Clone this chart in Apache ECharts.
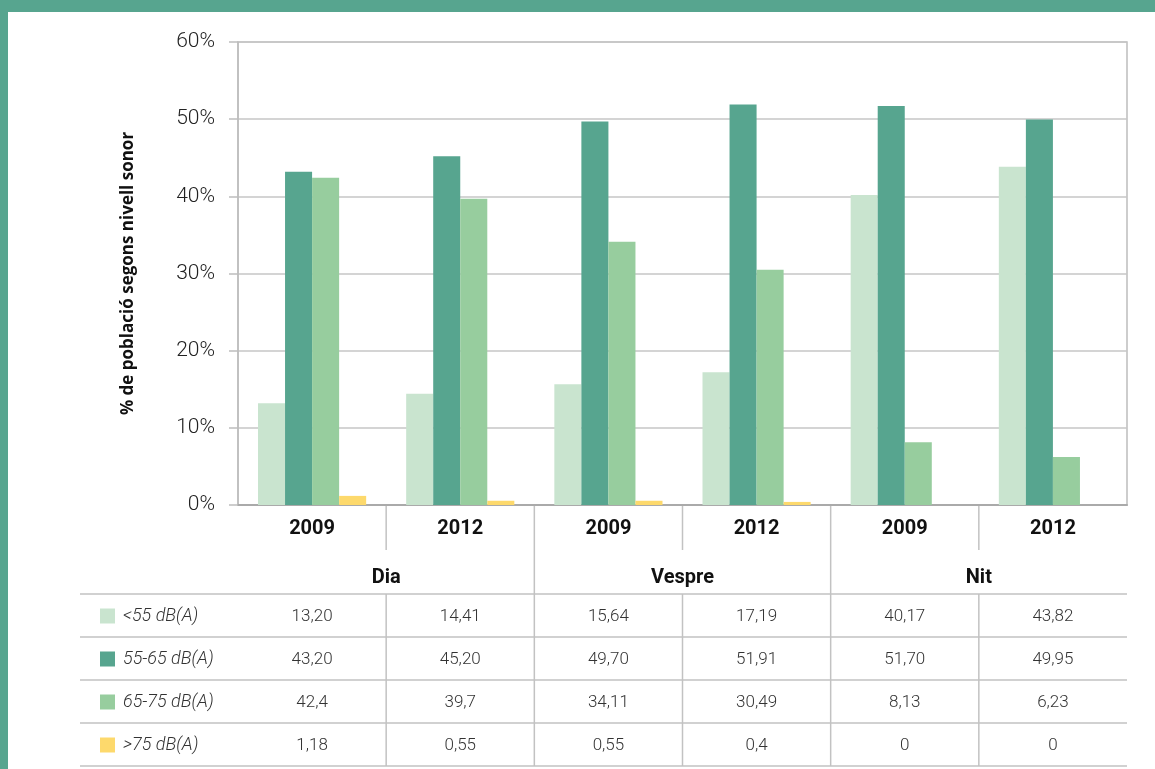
<!DOCTYPE html>
<html>
<head>
<meta charset="utf-8">
<script src="https://cdn.jsdelivr.net/npm/echarts@6/dist/echarts.min.js"></script>
<style>
html, body { margin: 0; padding: 0; background: #fff; }
#main { width: 1155px; height: 769px; }
</style>
</head>
<body>
<div id="main"></div>
<script>
// dades del gràfic
var years = ['2009', '2012', '2009', '2012', '2009', '2012'];
var periods = ['Dia', 'Vespre', 'Nit'];
var levels = ['<55 dB(A)', '55-65 dB(A)', '65-75 dB(A)', '>75 dB(A)'];
var below55 = ['13.20', '14.41', '15.64', '17.19', '40.17', '43.82'];
var from55to65 = ['43.20', '45.20', '49.70', '51.91', '51.70', '49.95'];
var from65to75 = ['42.4', '39.7', '34.11', '30.49', '8.13', '6.23'];
var above75 = ['1.18', '0.55', '0.55', '0.4', '0', '0'];
var yMin = 0, yMax = 60, yStep = 10;

var colors = ['#c9e4cf', '#57a58f', '#97cd9e', '#fdd96c'];
var rows = [below55, from55to65, from65to75, above75];
var font = 'Roboto, "Noto Sans", sans-serif';

var chart = echarts.init(document.getElementById('main'));

var series = [];
for (var i = 0; i < rows.length; i++) {
    series.push({
        name: levels[i],
        type: 'bar',
        silent: true,
        barGap: 0,
        barCategoryGap: '27%',
        itemStyle: { color: colors[i] },
        data: rows[i].map(function (v) { return parseFloat(v); })
    });
}

var option = {
    backgroundColor: '#fff',
    animation: false,
    textStyle: { fontFamily: font },
    grid: {
        left: 238, right: 28, top: 42, bottom: 264,
        show: true, borderColor: '#bdbdbd', borderWidth: 1.5
    },
    xAxis: [{
        type: 'category',
        data: years,
        axisLine: { lineStyle: { color: '#aaa', width: 2 } },
        axisTick: { show: false },
        axisLabel: { fontSize: 20, fontWeight: 'bold', color: '#111', margin: 14 }
    }, {
        type: 'category',
        data: periods,
        position: 'bottom',
        offset: 50,
        axisLine: { show: false },
        axisTick: { show: false },
        axisLabel: { fontSize: 20, fontWeight: 'bold', color: '#111', margin: 13 }
    }],
    yAxis: {
        type: 'value',
        min: yMin, max: yMax, interval: yStep,
        name: '% de població segons nivell sonor',
        nameLocation: 'middle',
        nameGap: 101,
        nameTextStyle: { fontFamily: '"Open Sans", sans-serif', fontSize: 17, fontWeight: 'bold', color: '#111' },
        axisLine: { show: true, lineStyle: { color: '#bdbdbd', width: 1.5 } },
        axisTick: { show: true, length: 9, lineStyle: { color: '#bdbdbd', width: 1.5 } },
        axisLabel: { formatter: '{value}%', fontSize: 21, fontWeight: 300, color: '#222', margin: 23 },
        splitLine: { lineStyle: { color: '#c6c6c6', width: 1.5 } }
    },
    series: series
};
chart.setOption(option);

// taula de dades sota l'eix
function drawTable() {
    var c0 = chart.convertToPixel({ xAxisIndex: 0 }, 0);
    var c1 = chart.convertToPixel({ xAxisIndex: 0 }, 1);
    var band = c1 - c0;
    var left = c0 - band / 2;
    var right = left + band * years.length;
    var axisY = chart.convertToPixel({ yAxisIndex: 0 }, yMin);
    var rowTop = 594, rowH = 43;
    var tableBottom = rowTop + rowH * rows.length;
    var lineStyle = { stroke: '#c2c2c2', lineWidth: 1.5 };
    var els = [];

    // marc verd
    els.push({ type: 'rect', shape: { x: 0, y: 0, width: 1155, height: 12 }, style: { fill: '#57a58f' } });
    els.push({ type: 'rect', shape: { x: 0, y: 0, width: 8, height: 769 }, style: { fill: '#57a58f' } });

    for (var r = 0; r <= rows.length; r++) {
        var y = rowTop + r * rowH;
        els.push({ type: 'line', shape: { x1: 80, y1: y, x2: right, y2: y }, style: lineStyle });
    }
    for (var k = 1; k < years.length; k++) {
        var x = left + k * band;
        if (k % 2 === 1) {
            els.push({ type: 'line', shape: { x1: x, y1: axisY, x2: x, y2: 550 }, style: lineStyle });
            els.push({ type: 'line', shape: { x1: x, y1: rowTop, x2: x, y2: tableBottom }, style: lineStyle });
        } else {
            els.push({ type: 'line', shape: { x1: x, y1: axisY, x2: x, y2: tableBottom }, style: lineStyle });
        }
    }
    for (var i = 0; i < rows.length; i++) {
        var cy = rowTop + i * rowH + rowH / 2 + 1;
        els.push({ type: 'rect', shape: { x: 100, y: cy - 8, width: 15, height: 15 }, style: { fill: colors[i] } });
        els.push({
            type: 'text', x: 123, y: cy,
            style: { text: levels[i], fontFamily: font, fontSize: 18, fontStyle: 'italic', fontWeight: 300, fill: '#333', verticalAlign: 'middle' }
        });
        for (var j = 0; j < years.length; j++) {
            els.push({
                type: 'text', x: left + band * (j + 0.5), y: cy,
                style: { text: rows[i][j].replace('.', ','), fontFamily: font, fontSize: 17, fontWeight: 300, fill: '#333', align: 'center', verticalAlign: 'middle' }
            });
        }
    }
    chart.setOption({ graphic: els });
}
drawTable();
</script>
</body>
</html>
